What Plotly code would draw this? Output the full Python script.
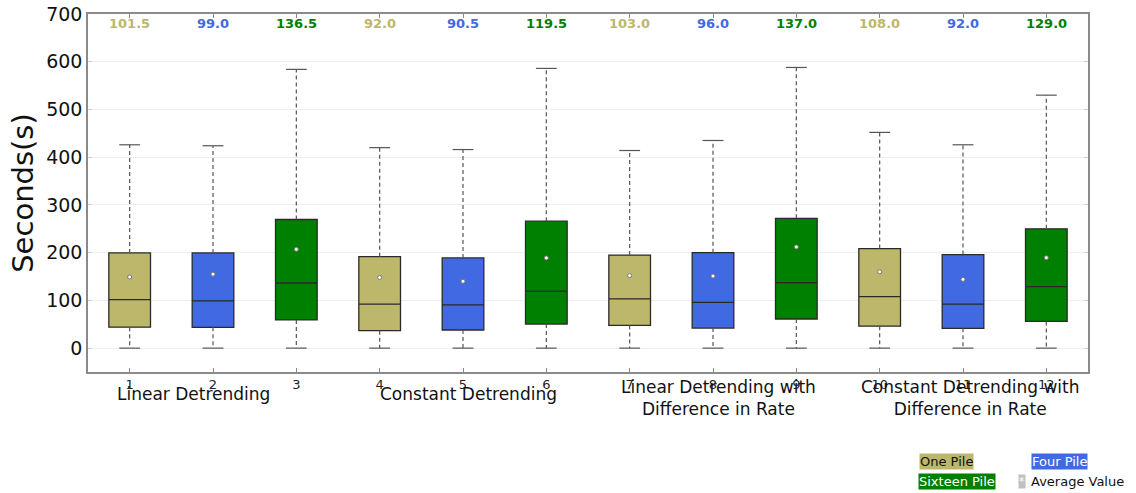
import plotly.graph_objects as go

# ---- data ----
positions = [1, 2, 3, 4, 5, 6, 7, 8, 9, 10, 11, 12]
pile_groups = ["One Pile", "Four Pile", "Sixteen Pile"] * 4
q1 = [44, 43.5, 59, 36.5, 38, 50.5, 47.5, 42, 61, 46, 41.5, 56]
medians = [101.5, 99.0, 136.5, 92.0, 90.5, 119.5, 103.0, 96.0, 137.0, 108.0, 92.0, 129.0]
q3 = [199.5, 199.5, 269.5, 191.5, 189, 266, 195, 200, 272, 208.5, 196, 250]
means = [149, 155, 207, 148, 140, 189, 152, 151, 212, 160, 144, 189.5]
upper_whisker = [426, 424, 584, 420, 416, 586, 414, 435, 588, 452, 426, 530]
lower_whisker = [0, 0, 0, 0, 0, 0, 0, 0, 0, 0, 0, 0]
method_labels = ["Linear Detrending", "Constant Detrending",
                 "Linear Detrending with<br>Difference in Rate",
                 "Constant Detrending with<br>Difference in Rate"]
method_label_x = [1.77, 5.06, 8.07, 11.08]
tick_labels = [str(p) for p in positions]

colors = {"One Pile": "#BDB76B", "Four Pile": "#4169E1", "Sixteen Pile": "#008000"}
text_colors = {"One Pile": "#BDB76B", "Four Pile": "#4169E1", "Sixteen Pile": "#008000"}

FONT = "DejaVu Sans"
BOX_W = 0.5
CAP_W = 0.25

fig = go.Figure()

# whiskers (dashed)
wx, wy = [], []
for p, a, b, lo, hi in zip(positions, q1, q3, lower_whisker, upper_whisker):
    wx += [p, p, None, p, p, None]
    wy += [b, hi, None, a, lo, None]
fig.add_trace(go.Scatter(x=wx, y=wy, mode="lines", showlegend=False, hoverinfo="skip",
                         line=dict(color="#555555", width=1.2, dash="4px,3px")))
# caps
cx, cy = [], []
for p, lo, hi in zip(positions, lower_whisker, upper_whisker):
    cx += [p - CAP_W / 2, p + CAP_W / 2, None, p - CAP_W / 2, p + CAP_W / 2, None]
    cy += [hi, hi, None, lo, lo, None]
fig.add_trace(go.Scatter(x=cx, y=cy, mode="lines", showlegend=False, hoverinfo="skip",
                         line=dict(color="#555555", width=1.2)))

# boxes
for p, g, a, m, b in zip(positions, pile_groups, q1, medians, q3):
    fig.add_trace(go.Box(x=[p], q1=[a], median=[m], q3=[b], lowerfence=[a], upperfence=[b],
                         width=BOX_W, fillcolor=colors[g], line=dict(color="#2a2a2a", width=1.3),
                         whiskerwidth=0, name=g, showlegend=False, boxpoints=False))

# averages
fig.add_trace(go.Scatter(x=positions, y=means, mode="markers", showlegend=False,
                         marker=dict(symbol="circle", size=4, color="white",
                                     line=dict(color="#777777", width=1))))

annotations = []
# median labels at top
for p, g, m in zip(positions, pile_groups, medians):
    annotations.append(dict(x=p, y=680, xref="x", yref="y", text="<b>%.1f</b>" % m,
                            showarrow=False, xanchor="center", yanchor="middle",
                            font=dict(family=FONT, size=13, color=text_colors[g])))
# method labels
for lbl, lx in zip(method_labels, method_label_x):
    two = "<br>" in lbl
    annotations.append(dict(x=lx, y=-0.072 if two else -0.0615, xref="x", yref="paper", text=lbl,
                            showarrow=False, xanchor="center", yanchor="middle",
                            font=dict(family=FONT, size=17, color="#111111")))
# legend-like boxes
legend_items = [
    ("One Pile", 0.8585, -0.251, colors["One Pile"], "#111111"),
    ("Four Pile", 0.971, -0.251, colors["Four Pile"], "white"),
    ("Sixteen Pile", 0.8685, -0.3045, colors["Sixteen Pile"], "white"),
]
for txt, lx, ly, bg, fc in legend_items:
    annotations.append(dict(x=lx, y=ly, xref="paper", yref="paper", text=txt, showarrow=False,
                            xanchor="center", yanchor="middle",
                            bgcolor=bg, borderpad=0, font=dict(family=FONT, size=13, color=fc)))
annotations.append(dict(x=0.934, y=-0.3045, xref="paper", yref="paper", text="*", showarrow=False,
                        xanchor="center", yanchor="middle", bgcolor="#c0c0c0", borderpad=0,
                        font=dict(family=FONT, size=11, color="white")))
annotations.append(dict(x=0.941, y=-0.3045, xref="paper", yref="paper", text="Average Value",
                        xanchor="left", yanchor="middle", showarrow=False,
                        font=dict(family=FONT, size=13, color="#111111")))

fig.update_layout(
    width=1136, height=493,
    margin=dict(l=88, r=48, t=14, b=121),
    paper_bgcolor="white", plot_bgcolor="white",
    boxmode="overlay",
    font=dict(family=FONT, color="#111111"),
    annotations=annotations,
    showlegend=False,
)
fig.update_xaxes(range=[0.5, 12.5], tickmode="array", tickvals=positions, ticktext=tick_labels,
                 showgrid=False, zeroline=False, showline=True, linecolor="#8a8a8a", linewidth=1.5,
                 mirror="ticks", ticks="inside", ticklen=4, tickcolor="#8a8a8a", automargin=False,
                 tickfont=dict(family=FONT, size=13, color="#222222"))
fig.update_yaxes(range=[-50, 700], tickvals=[0, 100, 200, 300, 400, 500, 600, 700],
                 showgrid=True, gridcolor="#efefef", gridwidth=1, zeroline=False,
                 showline=True, linecolor="#8a8a8a", linewidth=1.5, mirror="ticks",
                 ticks="inside", ticklen=4, tickcolor="#cccccc", automargin=False,
                 ticklabeloverflow="allow",
                 tickfont=dict(family=FONT, size=19, color="#111111"),
                 title=dict(text="Seconds(s)", font=dict(family=FONT, size=29, color="#111111"),
                            standoff=4))

fig.write_html("out.html", config={"displayModeBar": False},
               post_script="document.body.style.margin='0px';")
